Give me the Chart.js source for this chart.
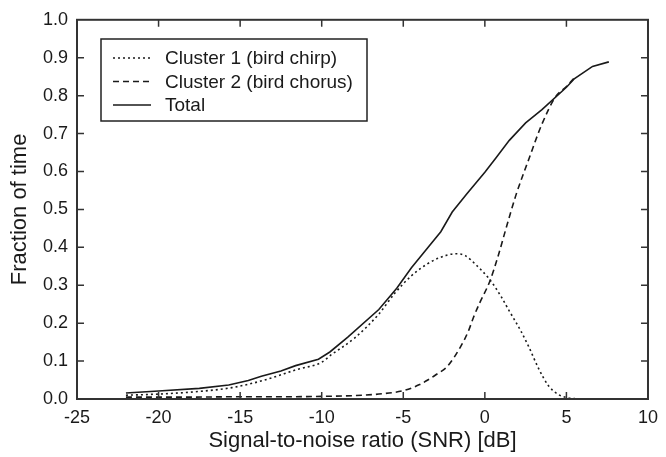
<!DOCTYPE html>
<html>
<head>
<meta charset="utf-8">
<script src="https://cdn.jsdelivr.net/npm/chart.js@4/dist/chart.umd.min.js"></script>
<style>
  html, body { margin: 0; padding: 0; background: #fff; }
  canvas { display: block; }
</style>
</head>
<body>
<canvas id="chart" width="666" height="457" style="width:666px;height:457px"></canvas>
<script>
// values
const seriesNames = ['Cluster 1 (bird chirp)', 'Cluster 2 (bird chorus)', 'Total'];

const chirpSnr = [-22, -20, -17.5, -15.5, -13.5, -11.5, -10, -9.4, -8, -6.5, -5.5, -4.5, -3.5, -2.8, -1.8, -1.2, -0.5, 0.3, 1, 1.5, 2.2, 2.7, 3.3, 3.9, 4.5, 5, 5.5, 6.2];
const chirpFrac = [0.010, 0.013, 0.020, 0.030, 0.050, 0.078, 0.097, 0.117, 0.160, 0.224, 0.280, 0.325, 0.357, 0.372, 0.383, 0.378, 0.352, 0.315, 0.270, 0.232, 0.180, 0.137, 0.080, 0.035, 0.012, 0.004, 0.001, 0.000];

const chorusSnr = [-22, -18, -15, -12, -10, -8, -6.5, -5, -4, -3.5, -3, -2.3, -1.5, -1, -0.7, -0.3, 0.3, 0.8, 1.3, 1.9, 2.7, 3.5, 4.35, 5, 5.5];
const chorusFrac = [0.005, 0.005, 0.006, 0.006, 0.007, 0.009, 0.013, 0.022, 0.038, 0.050, 0.064, 0.086, 0.137, 0.180, 0.215, 0.255, 0.310, 0.375, 0.450, 0.537, 0.633, 0.725, 0.798, 0.824, 0.848];

const totalSnr = [-22, -20, -17.5, -15.7, -14.5, -13.7, -12.5, -11.6, -10.2, -9.5, -8.4, -6.5, -5.4, -4.5, -3.5, -2.7, -2, -1.1, 0, 0.7, 1.5, 2.5, 3.5, 5, 5.5, 6.6, 7.6];
const totalFrac = [0.016, 0.021, 0.028, 0.037, 0.049, 0.060, 0.074, 0.088, 0.105, 0.124, 0.163, 0.236, 0.292, 0.346, 0.399, 0.441, 0.493, 0.541, 0.598, 0.637, 0.682, 0.728, 0.763, 0.822, 0.845, 0.877, 0.889];

const xTicks = [-25, -20, -15, -10, -5, 0, 5, 10];
const yTicks = [0, 0.1, 0.2, 0.3, 0.4, 0.5, 0.6, 0.7, 0.8, 0.9, 1.0];

const FONT = "'Liberation Sans', Arial, sans-serif";
const INK = '#1a1a1a';

function toPoints(xs, ys) {
  return xs.map((x, i) => ({ x: x, y: ys[i] }));
}

// frame, inward ticks on all four sides, and the boxed legend
const framePlugin = {
  id: 'frame',
  afterDraw(chart) {
    const ctx = chart.ctx;
    const a = chart.chartArea;
    const xs = chart.scales.x;
    const ys = chart.scales.y;
    ctx.save();
    ctx.strokeStyle = '#333';
    ctx.lineWidth = 2;
    ctx.strokeRect(a.left, a.top, a.right - a.left, a.bottom - a.top);

    ctx.lineWidth = 1.5;
    ctx.beginPath();
    xs.ticks.forEach(t => {
      const px = xs.getPixelForValue(t.value);
      if (px <= a.left + 1 || px >= a.right - 1) return;
      ctx.moveTo(px, a.bottom); ctx.lineTo(px, a.bottom - 7);
      ctx.moveTo(px, a.top); ctx.lineTo(px, a.top + 7);
    });
    ys.ticks.forEach(t => {
      const py = ys.getPixelForValue(t.value);
      if (py <= a.top + 1 || py >= a.bottom - 1) return;
      ctx.moveTo(a.left, py); ctx.lineTo(a.left + 7, py);
      ctx.moveTo(a.right, py); ctx.lineTo(a.right - 7, py);
    });
    ctx.stroke();

    // legend box
    const lx = 101, ly = 39, lw = 266, lh = 82;
    ctx.fillStyle = '#fff';
    ctx.fillRect(lx, ly, lw, lh);
    ctx.strokeStyle = '#222';
    ctx.lineWidth = 1.5;
    ctx.strokeRect(lx, ly, lw, lh);

    ctx.font = '19px ' + FONT;
    ctx.textBaseline = 'middle';
    ctx.fillStyle = INK;
    chart.data.datasets.forEach((ds, i) => {
      const cy = 58 + i * 23.5;
      ctx.save();
      ctx.strokeStyle = ds.borderColor;
      ctx.lineWidth = ds.borderWidth;
      ctx.setLineDash(ds.borderDash || []);
      ctx.beginPath();
      ctx.moveTo(113, cy);
      ctx.lineTo(151, cy);
      ctx.stroke();
      ctx.restore();
      ctx.fillText(ds.label, 165, cy + 1);
    });
    ctx.restore();
  }
};

const data = {
  datasets: [
    {
      label: seriesNames[0],
      data: toPoints(chirpSnr, chirpFrac),
      borderColor: INK,
      borderWidth: 1.6,
      borderDash: [2, 3],
      pointRadius: 0,
      tension: 0.3,
      cubicInterpolationMode: 'monotone',
    },
    {
      label: seriesNames[1],
      data: toPoints(chorusSnr, chorusFrac),
      borderColor: INK,
      borderWidth: 1.6,
      borderDash: [6, 4],
      pointRadius: 0,
      tension: 0.3,
      cubicInterpolationMode: 'monotone',
    },
    {
      label: seriesNames[2],
      data: toPoints(totalSnr, totalFrac),
      borderColor: INK,
      borderWidth: 1.6,
      pointRadius: 0,
      tension: 0,
    },
  ],
};

const config = {
  type: 'line',
  data: data,
  options: {
    responsive: false,
    animation: false,
    layout: { padding: { top: 16, right: 13, left: 0, bottom: 0 } },
    plugins: {
      legend: { display: false },
      tooltip: { enabled: false },
    },
    scales: {
      x: {
        type: 'linear',
        min: xTicks[0],
        max: xTicks[xTicks.length - 1],
        afterBuildTicks: s => { s.ticks = xTicks.map(v => ({ value: v })); },
        afterFit: s => { s.height = 58; },
        grid: { display: false, drawTicks: false },
        border: { display: false },
        ticks: {
          color: INK,
          padding: 8,
          maxRotation: 0,
          font: { size: 18, family: FONT },
          callback: v => String(v),
        },
        title: {
          display: true,
          text: 'Signal-to-noise ratio (SNR) [dB]',
          color: INK,
          font: { size: 22, family: FONT },
          padding: { top: 0, bottom: 3 },
        },
      },
      y: {
        type: 'linear',
        min: yTicks[0],
        max: yTicks[yTicks.length - 1],
        afterBuildTicks: s => { s.ticks = yTicks.map(v => ({ value: v })); },
        afterFit: s => { s.width = 77; },
        grid: { display: false, drawTicks: false },
        border: { display: false },
        ticks: {
          color: INK,
          padding: 9,
          font: { size: 18, family: FONT },
          callback: v => Number(v).toFixed(1),
        },
        title: {
          display: true,
          text: 'Fraction of time',
          color: INK,
          font: { size: 22, family: FONT },
          padding: { top: 7, bottom: 0 },
        },
      },
    },
  },
  plugins: [framePlugin],
};

const chart = new Chart(document.getElementById('chart'), config);
</script>
</body>
</html>
